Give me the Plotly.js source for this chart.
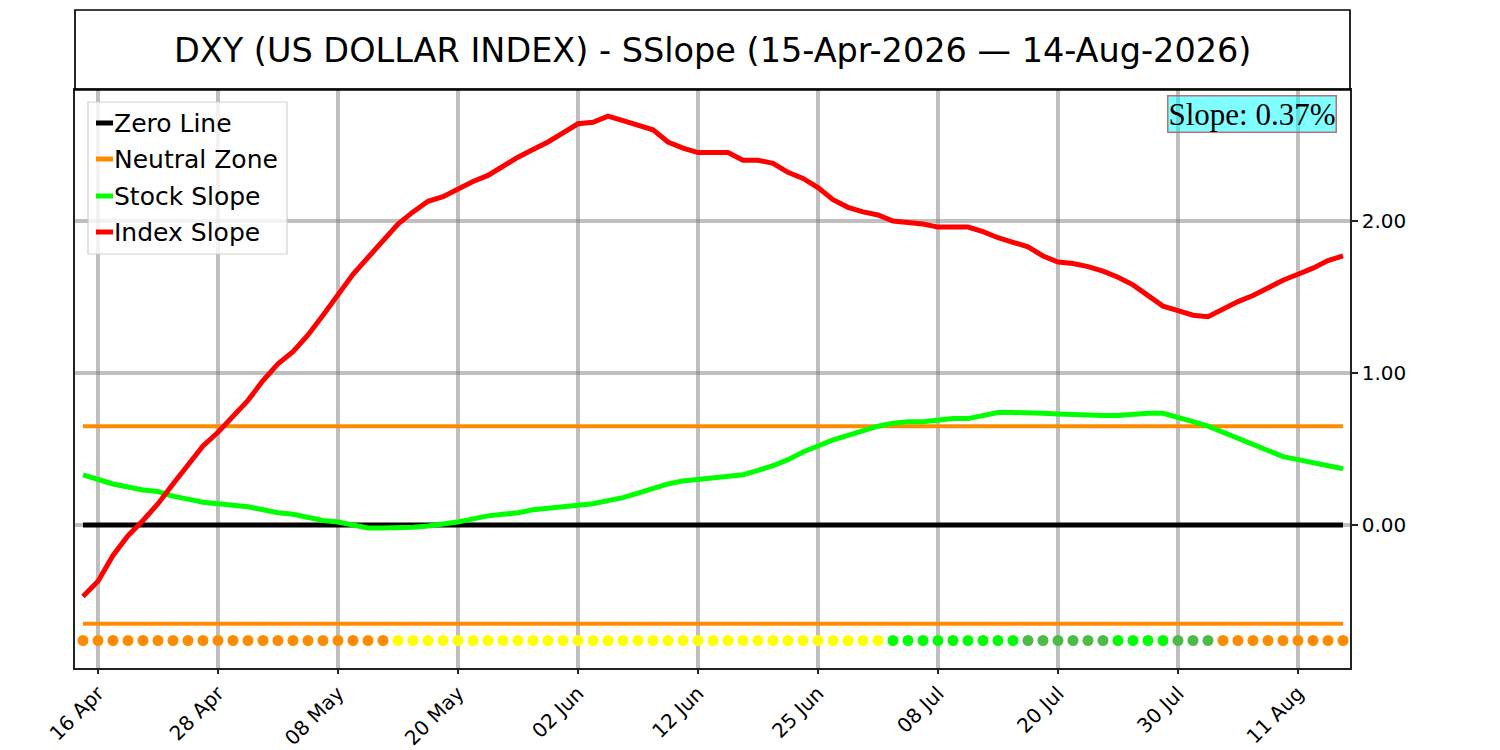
<!DOCTYPE html>
<html>
<head>
<meta charset="utf-8">
<script src="https://cdn.plot.ly/plotly-3.0.1.min.js"></script>
<style>
  html, body { margin: 0; padding: 0; background: #fff; }
  #chart { width: 1500px; height: 750px; }
</style>
</head>
<body>
<div id="chart"></div>
<script>
// Trading days, 15 Apr 2026 - 14 Aug 2026 (US holidays skipped)
const dates = [
    '2026-04-15', '2026-04-16', '2026-04-17', '2026-04-20', '2026-04-21', '2026-04-22', '2026-04-23', '2026-04-24',
    '2026-04-27', '2026-04-28', '2026-04-29', '2026-04-30', '2026-05-01', '2026-05-04', '2026-05-05', '2026-05-06',
    '2026-05-07', '2026-05-08', '2026-05-11', '2026-05-12', '2026-05-13', '2026-05-14', '2026-05-15', '2026-05-18',
    '2026-05-19', '2026-05-20', '2026-05-21', '2026-05-22', '2026-05-26', '2026-05-27', '2026-05-28', '2026-05-29',
    '2026-06-01', '2026-06-02', '2026-06-03', '2026-06-04', '2026-06-05', '2026-06-08', '2026-06-09', '2026-06-10',
    '2026-06-11', '2026-06-12', '2026-06-15', '2026-06-16', '2026-06-17', '2026-06-18', '2026-06-22', '2026-06-23',
    '2026-06-24', '2026-06-25', '2026-06-26', '2026-06-29', '2026-06-30', '2026-07-01', '2026-07-02', '2026-07-06',
    '2026-07-07', '2026-07-08', '2026-07-09', '2026-07-10', '2026-07-13', '2026-07-14', '2026-07-15', '2026-07-16',
    '2026-07-17', '2026-07-20', '2026-07-21', '2026-07-22', '2026-07-23', '2026-07-24', '2026-07-27', '2026-07-28',
    '2026-07-29', '2026-07-30', '2026-07-31', '2026-08-03', '2026-08-04', '2026-08-05', '2026-08-06', '2026-08-07',
    '2026-08-10', '2026-08-11', '2026-08-12', '2026-08-13', '2026-08-14'
];

const indexSlope = [
    -0.47, -0.37, -0.20, -0.07, 0.03, 0.14, 0.27, 0.40, 0.52, 0.61,
    0.71, 0.82, 0.95, 1.06, 1.14, 1.25, 1.38, 1.51, 1.65, 1.76,
    1.87, 1.98, 2.06, 2.13, 2.16, 2.21, 2.26, 2.30, 2.36, 2.42,
    2.47, 2.52, 2.58, 2.64, 2.65, 2.69, 2.66, 2.63, 2.60, 2.52,
    2.48, 2.45, 2.45, 2.45, 2.40, 2.40, 2.38, 2.32, 2.28, 2.22,
    2.14, 2.09, 2.06, 2.04, 2.00, 1.99, 1.98, 1.96, 1.96, 1.96,
    1.93, 1.89, 1.86, 1.83, 1.77, 1.73, 1.72, 1.70, 1.67, 1.63,
    1.58, 1.51, 1.44, 1.41, 1.38, 1.37, 1.42, 1.47, 1.51, 1.56,
    1.61, 1.65, 1.69, 1.74, 1.77
];

const stockSlope = [
    0.33, 0.30, 0.27, 0.25, 0.23, 0.22, 0.19, 0.17, 0.15, 0.14,
    0.13, 0.12, 0.10, 0.08, 0.07, 0.05, 0.03, 0.02, 0.00, -0.02,
    -0.02, -0.02, -0.015, -0.006, 0.003, 0.02, 0.04, 0.06, 0.07, 0.08,
    0.10, 0.11, 0.12, 0.13, 0.14, 0.16, 0.18, 0.21, 0.24, 0.27,
    0.29, 0.30, 0.31, 0.32, 0.33, 0.36, 0.39, 0.43, 0.48, 0.52,
    0.56, 0.59, 0.62, 0.65, 0.67, 0.68, 0.68, 0.69, 0.70, 0.70,
    0.72, 0.74, 0.74, 0.74, 0.735, 0.73, 0.725, 0.72, 0.72, 0.72,
    0.73, 0.735, 0.735, 0.71, 0.68, 0.65, 0.61, 0.57, 0.53, 0.49,
    0.45, 0.43, 0.41, 0.39, 0.37
];

// Status dot per day: O = orange, Y = yellow, G = green, D = dark green
const dotState = [
    'O', 'O', 'O', 'O', 'O', 'O', 'O', 'O', 'O', 'O', 'O', 'O', 'O', 'O', 'O', 'O', 'O', 'O', 'O', 'O', 'O',
    'Y', 'Y', 'Y', 'Y', 'Y', 'Y', 'Y', 'Y', 'Y', 'Y', 'Y', 'Y', 'Y', 'Y', 'Y', 'Y', 'Y', 'Y', 'Y', 'Y', 'Y',
    'Y', 'Y', 'Y', 'Y', 'Y', 'Y', 'Y', 'Y', 'Y', 'Y', 'Y', 'Y',
    'G', 'G', 'G', 'G', 'G', 'G', 'G', 'G', 'G',
    'D', 'D', 'D', 'D', 'D', 'D',
    'G', 'G', 'G', 'G',
    'D', 'D', 'D',
    'O', 'O', 'O', 'O', 'O', 'O', 'O', 'O', 'O'
];

const tickDates = ['2026-04-16', '2026-04-28', '2026-05-08', '2026-05-20', '2026-06-02', '2026-06-12',
    '2026-06-25', '2026-07-08', '2026-07-20', '2026-07-30', '2026-08-11'];
const tickLabels = ['16 Apr', '28 Apr', '08 May', '20 May', '02 Jun', '12 Jun',
    '25 Jun', '08 Jul', '20 Jul', '30 Jul', '11 Aug'];

const neutralBand = 0.65;
const dotLevel = -0.76;

const colors = {
    zero: '#000000',
    neutral: '#ff8c00',
    stock: '#00ff00',
    index: '#ff0000',
    grid: 'rgba(128,128,128,0.5)',
    axis: '#222222'
};
const dotColors = { O: '#ff8c00', Y: '#ffff00', G: '#00ff00', D: '#4cbb47' };

const FONT = '"DejaVu Sans", Verdana, sans-serif';
const first = dates[0];
const last = dates[dates.length - 1];

// plot area in pixels (used for paper-space decorations)
const plot = { left: 75, right: 1350, top: 90, bottom: 668 };
const px = x => (x - plot.left) / (plot.right - plot.left);
const py = y => (plot.bottom - y) / (plot.bottom - plot.top);

const traces = [
    {
        x: [first, last], y: [0, 0], type: 'scatter', mode: 'lines',
        name: 'Zero Line', line: { color: colors.zero, width: 5 }
    },
    {
        x: [first, last], y: [neutralBand, neutralBand], type: 'scatter', mode: 'lines',
        name: 'Neutral Zone', line: { color: colors.neutral, width: 4 }
    },
    {
        x: [first, last], y: [-neutralBand, -neutralBand], type: 'scatter', mode: 'lines',
        name: 'Neutral Zone', line: { color: colors.neutral, width: 4 }
    },
    {
        x: dates, y: stockSlope, type: 'scatter', mode: 'lines',
        name: 'Stock Slope', line: { color: colors.stock, width: 5 }
    },
    {
        x: dates, y: indexSlope, type: 'scatter', mode: 'lines',
        name: 'Index Slope', line: { color: colors.index, width: 5 }
    },
    {
        x: dates, y: dates.map(() => dotLevel), type: 'scatter', mode: 'markers',
        name: 'State',
        marker: { size: 11, color: dotState.map(s => dotColors[s]), line: { width: 0 } }
    }
];

// hand-built legend, matplotlib style
const legendItems = [
    { label: 'Zero Line', color: colors.zero, y: 123 },
    { label: 'Neutral Zone', color: colors.neutral, y: 159 },
    { label: 'Stock Slope', color: colors.stock, y: 196 },
    { label: 'Index Slope', color: colors.index, y: 232 }
];

const shapes = [
    // title box
    {
        type: 'rect', xref: 'paper', yref: 'paper',
        x0: 0, x1: 1, y0: 1, y1: py(10),
        line: { color: '#000', width: 1.7 }, fillcolor: 'rgba(0,0,0,0)'
    },
    // legend frame
    {
        type: 'rect', xref: 'paper', yref: 'paper', layer: 'above',
        x0: px(88), x1: px(287), y0: py(254), y1: py(102),
        line: { color: 'rgba(204,204,204,0.9)', width: 1.2 }, fillcolor: 'rgba(255,255,255,0.8)'
    }
];
legendItems.forEach(item => {
    shapes.push({
        type: 'line', xref: 'paper', yref: 'paper', layer: 'above',
        x0: px(96), x1: px(113), y0: py(item.y), y1: py(item.y),
        line: { color: item.color, width: 5 }
    });
});

const annotations = [
    {
        xref: 'paper', yref: 'paper', x: 0.5, y: py(50),
        xanchor: 'center', yanchor: 'middle', showarrow: false,
        text: 'DXY (US DOLLAR INDEX) - SSlope (15-Apr-2026 \u2014 14-Aug-2026)',
        font: { family: FONT, size: 33.5, color: '#000' }
    },
    {
        xref: 'paper', yref: 'paper', x: px(1337), y: py(95),
        xanchor: 'right', yanchor: 'top', showarrow: false,
        text: 'Slope: ' + stockSlope[stockSlope.length - 1].toFixed(2) + '%',
        font: { family: '"Liberation Serif", "Times New Roman", serif', size: 31, color: '#000' },
        bgcolor: 'rgba(0,255,255,0.5)', bordercolor: 'rgba(180,100,100,0.9)',
        borderwidth: 1.5, borderpad: 0
    }
];
legendItems.forEach(item => {
    annotations.push({
        xref: 'paper', yref: 'paper', x: px(113), y: py(item.y),
        xanchor: 'left', yanchor: 'middle', showarrow: false,
        text: item.label, borderpad: 0,
        font: { family: FONT, size: 25, color: '#000' }
    });
});

const layout = {
    width: 1500,
    height: 750,
    paper_bgcolor: '#ffffff',
    plot_bgcolor: '#ffffff',
    margin: { l: plot.left, r: 1500 - plot.right, t: plot.top, b: 750 - plot.bottom },
    showlegend: false,
    font: { family: FONT, color: '#000' },
    xaxis: {
        type: 'category',
        categoryorder: 'array',
        categoryarray: dates,
        range: [-8 / 15, 84 + 7 / 15],
        tickvals: tickDates,
        ticktext: tickLabels,
        tickangle: -45,
        tickfont: { family: FONT, size: 20, color: '#000' },
        ticks: 'outside', ticklen: 4, tickwidth: 1.7, tickcolor: colors.axis,
        showgrid: true, gridcolor: colors.grid, gridwidth: 4.5,
        showline: true, mirror: true, linecolor: colors.axis, linewidth: 1.7,
        zeroline: false
    },
    yaxis: {
        side: 'right',
        range: [-0.941, 2.862],
        tickvals: [0, 1, 2],
        tickformat: '.2f',
        tickfont: { family: FONT, size: 20, color: '#000' },
        ticks: 'outside', ticklen: 6, tickwidth: 1.7, tickcolor: colors.axis,
        showgrid: true, gridcolor: colors.grid, gridwidth: 4.5,
        showline: true, mirror: true, linecolor: colors.axis, linewidth: 1.7,
        zeroline: false
    },
    shapes: shapes,
    annotations: annotations
};

Plotly.newPlot('chart', traces, layout, { displayModeBar: false, staticPlot: true });
</script>
</body>
</html>
